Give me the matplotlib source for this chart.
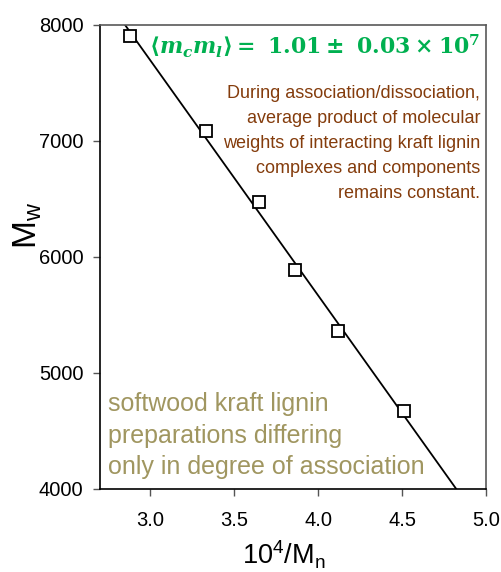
import numpy as np
import matplotlib
matplotlib.use("Agg")
import matplotlib.pyplot as plt

plt.rcParams['font.family'] = ['Liberation Sans', 'DejaVu Sans']
plt.rcParams['mathtext.fontset'] = 'custom'
plt.rcParams['mathtext.rm'] = 'DejaVu Serif:bold'
plt.rcParams['mathtext.it'] = 'DejaVu Serif:italic:bold'
plt.rcParams['mathtext.bf'] = 'DejaVu Serif:bold'

inv_mn = [2.88, 3.33, 3.65, 3.86, 4.12, 4.51]
mw = [7905, 7085, 6475, 5890, 5360, 4670]
fit_intercept = 13776
fit_slope = -2027
xticks = [3.0, 3.5, 4.0, 4.5, 5.0]
yticks = [4000, 5000, 6000, 7000, 8000]

fig = plt.figure(figsize=(5.01, 5.72), dpi=100)
ax = fig.add_axes([100/501, 1-489/572, 386/501, 464/572])

xf = np.array([2.6, 5.0])
ax.plot(xf, fit_intercept + fit_slope*xf, color='black', lw=1.3, zorder=2)
ax.plot(inv_mn, mw, linestyle='none', marker='s', markersize=8,
        markerfacecolor='white', markeredgecolor='black', markeredgewidth=1.3, zorder=3)

ax.set_xlim(2.7, 5.0)
ax.set_ylim(4000, 8000)
ax.set_xticks(xticks)
ax.set_xticklabels([f"{v:.1f}" for v in xticks])
ax.set_yticks(yticks)
ax.set_yticklabels([str(v) for v in yticks])
ax.tick_params(direction='out', length=5, width=1, labelsize=14.5, labelcolor='black', color='#555555')
ax.tick_params(axis='x', pad=11)
ax.tick_params(axis='y', pad=7)
for s in ['top', 'right']:
    ax.spines[s].set_color('#595959')
    ax.spines[s].set_linewidth(1.2)
for s in ['left', 'bottom']:
    ax.spines[s].set_color('black')
    ax.spines[s].set_linewidth(1.2)

ax.set_xlabel(r'10$^{\mathregular{4}}$/M$_{\mathregular{n}}$', fontsize=19.5, va='top')
ax.xaxis.set_label_coords(0.477, -0.108)
ax.set_ylabel(r'M$_{\mathregular{w}}$', fontsize=24)
ax.yaxis.set_label_coords(-0.145, 0.567)

ax.text(0.985, 0.953, r'$\langle m_c m_l\rangle = \ 1.01 \pm\ 0.03 \times 10^7$',
        transform=ax.transAxes, ha='right', va='center', fontsize=15.8, color='#00B050')

ax.text(0.985, 0.87,
        "During association/dissociation,\naverage product of molecular\n"
        "weights of interacting kraft lignin\ncomplexes and components\nremains constant.",
        transform=ax.transAxes, ha='right', va='top', fontsize=13, color='#843C0C',
        linespacing=1.6)

ax.text(0.02, 0.209,
        "softwood kraft lignin\npreparations differing\nonly in degree of association",
        transform=ax.transAxes, ha='left', va='top', fontsize=18, color='#A09660',
        linespacing=1.4)

fig.savefig('out.png', dpi=100)
